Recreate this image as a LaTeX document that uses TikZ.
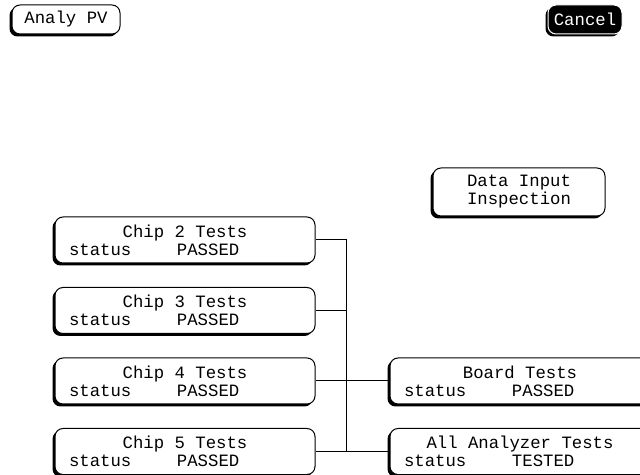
\documentclass[tikz,border=0pt]{standalone}
\usepackage{fontspec}
\setmonofont{Liberation Mono}
\usetikzlibrary{shadows}

\newcommand{\teststat}[2]{\makebox[232pt]{#1}\\\makebox[108pt][l]{status}#2}

\begin{document}
\begin{tikzpicture}[x=1pt,y=1pt,
  softkey/.style={draw,line width=1pt,rounded corners=8pt,fill=white,
    drop shadow={shadow xshift=-2.5pt,shadow yshift=-2.5pt,fill=black,opacity=1},
    font=\ttfamily\fontsize{17.3}{18}\selectfont},
  testbox/.style={softkey,minimum width=260pt,minimum height=46pt,inner xsep=14pt,align=left},
  link/.style={line width=1pt}]
\useasboundingbox (0,0) rectangle (640,474);

\node[softkey,minimum width=108pt,minimum height=29pt] (analy) at (66,454.5) {Analy PV};
\node[softkey,fill=black,draw=white,text=white,minimum width=74pt,minimum height=29pt] (cancel) at (585,454.5) {Cancel};

\node[softkey,minimum width=172pt,minimum height=48pt,align=center] (datain) at (519,282) {Data Input\\Inspection};

\node[testbox] (chip2) at (185,234) {\teststat{Chip 2 Tests}{PASSED}};
\node[testbox] (chip3) at (185,163.5) {\teststat{Chip 3 Tests}{PASSED}};
\node[testbox] (chip4) at (185,93) {\teststat{Chip 4 Tests}{PASSED}};
\node[testbox] (chip5) at (185,22.5) {\teststat{Chip 5 Tests}{PASSED}};
\node[testbox] (board) at (520,93) {\teststat{Board Tests}{PASSED}};
\node[testbox] (allan) at (520,22.5) {\teststat{All Analyzer Tests}{TESTED}};

\draw[link] (chip2.east) -- ++(31,0) coordinate (bus);
\draw[link] (bus) -- (bus |- chip5.east);
\draw[link] (chip3.east) -- (chip3.east -| bus);
\draw[link] (chip4.east) -- (board.west);
\draw[link] (chip5.east) -- (allan.west);

\end{tikzpicture}
\end{document}
